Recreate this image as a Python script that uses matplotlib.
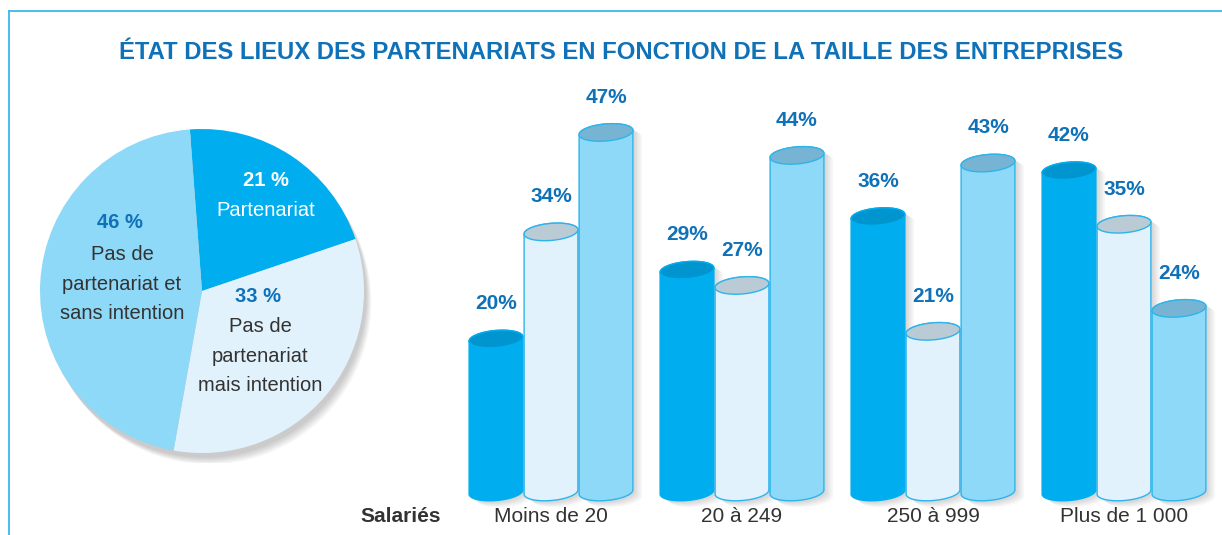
import numpy as np
import matplotlib
matplotlib.use("Agg")
import matplotlib.pyplot as plt
from matplotlib.patches import Polygon, Circle
from matplotlib.lines import Line2D

plt.rcParams['font.family'] = ['Liberation Sans', 'DejaVu Sans']

# data
title = "ÉTAT DES LIEUX DES PARTENARIATS EN FONCTION DE LA TAILLE DES ENTREPRISES"
pie_values = [21, 33, 46]
pie_pct = ["21 %", "33 %", "46 %"]
pie_labels = ["Partenariat", "Pas de\npartenariat\nmais intention", "Pas de\npartenariat et\nsans intention"]
sizes = ["Moins de 20", "20 à 249", "250 à 999", "Plus de 1 000"]
partenariat = [20, 29, 36, 42]
mais_intention = [34, 27, 21, 35]
sans_intention = [47, 44, 43, 24]

BLUE = "#00AEEF"
PALE = "#E1F2FC"
LIGHT = "#8ED8F8"
TITLE_C = "#0F71B8"
TXT = "#333333"
EDGE = "#2DB4EC"

W, H = 1222, 535
fig = plt.figure(figsize=(W / 100, H / 100), dpi=100)
fig.patch.set_facecolor("white")

def fx(px):
    return px / W

def fy(py):
    return 1 - py / H

# frame lines
fig.add_artist(Line2D([fx(9), 1], [fy(11), fy(11)], color="#3DB8EC", lw=1.3))
fig.add_artist(Line2D([fx(9), fx(9)], [fy(11), 0], color="#3DB8EC", lw=1.3))

fig.text(fx(621), fy(52), title, ha="center", va="center", fontsize=17.2,
         fontweight="bold", color=TITLE_C)

# ---- pie ----
cx, cy, R = 202, 291, 162
half = 172
pax = fig.add_axes([fx(cx - half), fy(cy + half), 2 * half / W, 2 * half / H])
lim = half / R
pax.axis("off")
# soft shadow
for k in range(6):
    pax.add_patch(Circle((0.015 + 0.006 * k, -0.03 - 0.008 * k), 1.0, color="black",
                         alpha=0.035, lw=0, zorder=0))
pax.pie(pie_values, colors=[BLUE, PALE, LIGHT], startangle=94.3, counterclock=False,
        radius=1.0, wedgeprops=dict(linewidth=0), frame=False)
pax.set_xlim(-lim, lim)
pax.set_ylim(-lim, lim)
pax.set_aspect("equal")

def pt(px, py):
    return (px - cx) / R, (cy - py) / R

pie_pos = [((266, 181), (266, 211)), ((258, 297), (260, 356)), ((120, 222), (122, 284))]
pie_cols = ["white", TITLE_C, TITLE_C]
lab_cols = ["white", TXT, TXT]
for i in range(3):
    (px1, py1), (px2, py2) = pie_pos[i]
    pax.text(*pt(px1, py1), pie_pct[i], ha="center", va="center", fontsize=14.5,
             fontweight="bold", color=pie_cols[i])
    pax.text(*pt(px2, py2), pie_labels[i], ha="center", va="center", fontsize=14.5,
             color=lab_cols[i], linespacing=1.68)

# ---- cylinders ----
left_px, right_px, top_px, bot_px = 440, 1215, 85, 505
ax = fig.add_axes([fx(left_px), fy(bot_px), (right_px - left_px) / W, (bot_px - top_px) / H])
pitch = 191.0
zero_px, unit_px = 492.0, 7.65
ax.set_xlim((left_px - 551) / pitch, (right_px - 551) / pitch)
ax.set_ylim((zero_px - bot_px) / unit_px, (zero_px - top_px) / unit_px)
ax.axis("off")

bw_px = 54
ea_px, eb_px = bw_px / 2, 8.5
tilt = np.deg2rad(5)
off = 55 / pitch

series = [partenariat, mais_intention, sans_intention]
body_cols = [BLUE, PALE, LIGHT]
top_cols = ["#0095CF", "#BACBD5", "#77B4D3"]
edge_cols = [BLUE, EDGE, EDGE]

def ell(t):
    # tilted ellipse, in data units relative to centre
    u = ea_px * np.cos(t)
    w = eb_px * np.sin(t)
    ur = u * np.cos(tilt) - w * np.sin(tilt)
    wr = u * np.sin(tilt) + w * np.cos(tilt)
    return ur / pitch, wr / unit_px

def body(xc, v, dx=0.0, dy=0.0):
    x1, y1 = ell(np.linspace(np.pi, 2 * np.pi, 50))
    x2, y2 = ell(np.linspace(0, np.pi, 50))
    xs = np.concatenate([xc + x1, xc + x2]) + dx
    ys = np.concatenate([y1, v + y2]) + dy
    return np.column_stack([xs, ys])

def top(xc, v):
    x, y = ell(np.linspace(0, 2 * np.pi, 100))
    return np.column_stack([xc + x, v + y])

for g in range(len(sizes)):
    for s in range(3):
        xc = g + (s - 1) * off
        v = series[s][g]
        # shadow
        for k in range(5):
            ax.add_patch(Polygon(body(xc, v, 0.012 + 0.009 * k, -0.25 - 0.15 * k),
                                 closed=True, color="black", alpha=0.03, lw=0,
                                 zorder=1 + s * 3, clip_on=False))
        ax.add_patch(Polygon(body(xc, v), closed=True, facecolor=body_cols[s],
                             edgecolor=edge_cols[s], lw=1.0, zorder=2 + s * 3, clip_on=False))
        ax.add_patch(Polygon(top(xc, v), closed=True, facecolor=top_cols[s],
                             edgecolor=edge_cols[s], lw=1.0, zorder=3 + s * 3, clip_on=False))
        ax.text(xc, v + 4.6, f"{v}%", ha="center", va="center", fontsize=15,
                fontweight="bold", color=TITLE_C, zorder=20)
    ax.text(g, (zero_px - 517) / unit_px, sizes[g], ha="center", va="center",
            fontsize=15, color=TXT)

fig.text(fx(401), fy(517), "Salariés", ha="center", va="center", fontsize=15,
         fontweight="bold", color=TXT)

fig.savefig("out.png", dpi=100)
